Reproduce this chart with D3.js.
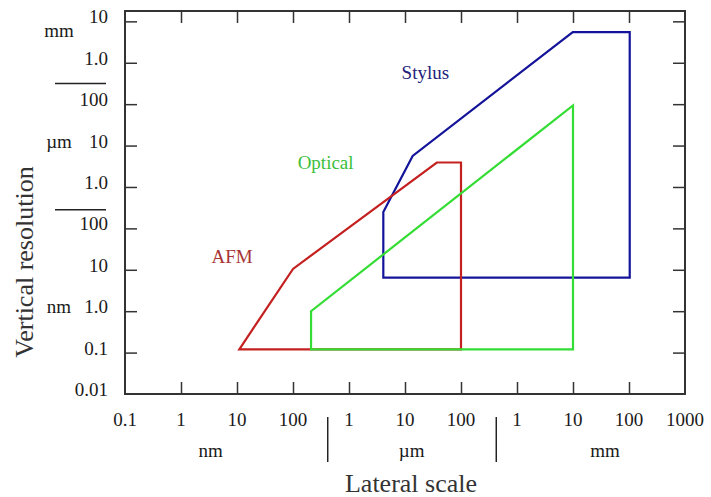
<!DOCTYPE html>
<html>
<head>
<meta charset="utf-8">
<script src="https://cdn.jsdelivr.net/npm/d3@7"></script>
<style>
  body { margin: 0; background: #fff; }
  text { font-family: "Liberation Serif", "Times New Roman", serif; }
</style>
</head>
<body>
<div id="chart"></div>
<script>
// axis ticks (values in metres) and their printed labels
const xTickValues = [1e-10, 1e-9, 1e-8, 1e-7, 1e-6, 1e-5, 1e-4, 1e-3, 1e-2, 1e-1, 1];
const xTickLabels = ["0.1", "1", "10", "100", "1", "10", "100", "1", "10", "100", "1000"];
const yTickValues = [1e-11, 1e-10, 1e-9, 1e-8, 1e-7, 1e-6, 1e-5, 1e-4, 1e-3, 1e-2];
const yTickLabels = ["0.01", "0.1", "1.0", "10", "100", "1.0", "10", "100", "1.0", "10"];

// unit groups along each axis
const xUnits = ["nm", "µm", "mm"];
const xUnitAt = [10 ** -8.47, 10 ** -4.88, 10 ** -1.43];
const xUnitBreaks = [10 ** -6.38, 10 ** -3.37];
const yUnits = ["mm", "µm", "nm"];
const yUnitAt = [10 ** -2.33, 1e-5, 1e-9];
const yUnitBreaks = [10 ** -3.5, 10 ** -6.55];

// instrument regions: lateral (x) and vertical (y) corners, in metres
const afmX = [11e-9, 1e-7, 3.7e-5, 1e-4, 1e-4];
const afmY = [1.2e-10, 1.05e-8, 3.9e-6, 3.9e-6, 1.2e-10];
const opticalX = [2.1e-7, 2.1e-7, 1e-2, 1e-2];
const opticalY = [1.2e-10, 1e-9, 9.3e-5, 1.2e-10];
const stylusX = [4.1e-6, 4.1e-6, 1.37e-5, 9.9e-3, 0.103, 0.103];
const stylusY = [6.5e-9, 2.5e-7, 5.6e-6, 5.5e-3, 5.5e-3, 6.5e-9];

const seriesNames = ["Stylus", "AFM", "Optical"];
const seriesLabelX = [8.7e-6, 3.5e-9, 1.21e-7];
const seriesLabelY = [4.1e-4, 1.48e-8, 2.72e-6];

const W = 711, H = 497;
const frame = { left: 125, right: 685, top: 11, bottom: 394 };

const svg = d3.select("#chart").append("svg")
    .attr("width", W)
    .attr("height", H);

const x = d3.scaleLog().domain([1e-10, 1]).range([frame.left, frame.right]);
const y = d3.scaleLog().domain([1e-11, 10 ** -1.75]).range([frame.bottom, frame.top]);

const axisColor = "#333";
const tickLen = 12;

// ticks on all four sides, pointing inward (edge values are the frame itself)
const innerX = xTickValues.slice(1, -1);
const innerY = yTickValues.slice(1);

function styleAxis(g) {
    g.select(".domain").remove();
    g.selectAll(".tick line").attr("stroke", axisColor).attr("stroke-width", 1.5);
}

svg.append("g").attr("transform", `translate(0,${frame.bottom})`)
    .call(d3.axisBottom(x).tickValues(innerX).tickSize(-tickLen).tickFormat(""))
    .call(styleAxis);
svg.append("g").attr("transform", `translate(0,${frame.top})`)
    .call(d3.axisTop(x).tickValues(innerX).tickSize(-tickLen).tickFormat(""))
    .call(styleAxis);
svg.append("g").attr("transform", `translate(${frame.left},0)`)
    .call(d3.axisLeft(y).tickValues(innerY).tickSize(-tickLen).tickFormat(""))
    .call(styleAxis);
svg.append("g").attr("transform", `translate(${frame.right},0)`)
    .call(d3.axisRight(y).tickValues(innerY).tickSize(-tickLen).tickFormat(""))
    .call(styleAxis);

// frame
svg.append("rect")
    .attr("x", frame.left)
    .attr("y", frame.top)
    .attr("width", frame.right - frame.left)
    .attr("height", frame.bottom - frame.top)
    .attr("fill", "none")
    .attr("stroke", axisColor)
    .attr("stroke-width", 2);

// tick labels
svg.append("g").selectAll("text")
    .data(xTickValues)
    .join("text")
    .attr("x", d => x(d))
    .attr("y", 426)
    .attr("text-anchor", "middle")
    .style("font-size", "19px")
    .attr("fill", "#1a1a1a")
    .text((d, i) => xTickLabels[i]);

svg.append("g").selectAll("text")
    .data(yTickValues)
    .join("text")
    .attr("x", 108)
    .attr("y", d => y(d) + 2)
    .attr("text-anchor", "end")
    .style("font-size", "19px")
    .attr("fill", "#1a1a1a")
    .text((d, i) => yTickLabels[i]);

// unit names and separators
svg.append("g").selectAll("text")
    .data(xUnits)
    .join("text")
    .attr("x", (d, i) => x(xUnitAt[i]))
    .attr("y", 457)
    .attr("text-anchor", "middle")
    .style("font-size", "19px")
    .attr("fill", "#1a1a1a")
    .text(d => d);

svg.append("g").selectAll("line")
    .data(xUnitBreaks)
    .join("line")
    .attr("x1", d => x(d)).attr("x2", d => x(d))
    .attr("y1", 417).attr("y2", 462)
    .attr("stroke", "#222")
    .attr("stroke-width", 1.5);

svg.append("g").selectAll("text")
    .data(yUnits)
    .join("text")
    .attr("x", 59)
    .attr("y", (d, i) => y(yUnitAt[i]) + 2)
    .attr("text-anchor", "middle")
    .style("font-size", "19px")
    .attr("fill", "#1a1a1a")
    .text(d => d);

svg.append("g").selectAll("line")
    .data(yUnitBreaks)
    .join("line")
    .attr("x1", 55).attr("x2", 106)
    .attr("y1", d => y(d)).attr("y2", d => y(d))
    .attr("stroke", "#222")
    .attr("stroke-width", 1.5);

// axis titles
svg.append("text")
    .attr("x", 411)
    .attr("y", 492)
    .attr("text-anchor", "middle")
    .style("font-size", "26px")
    .attr("fill", "#333")
    .text("Lateral scale");

svg.append("text")
    .attr("transform", "translate(33,262) rotate(-90)")
    .attr("text-anchor", "middle")
    .style("font-size", "26px")
    .attr("fill", "#333")
    .text("Vertical resolution");

// instrument regions
const regions = [
    { name: "Stylus", xs: stylusX, ys: stylusY, color: "#14149a", text: "#22227a" },
    { name: "AFM", xs: afmX, ys: afmY, color: "#c42020", text: "#a83434" },
    { name: "Optical", xs: opticalX, ys: opticalY, color: "#33dd33", text: "#3cbf3c" }
];

const outline = d3.line()
    .x(d => x(d[0]))
    .y(d => y(d[1]))
    .curve(d3.curveLinearClosed);

regions.forEach(r => {
    const pts = r.xs.map((v, i) => [v, r.ys[i]]);
    svg.append("path")
        .attr("d", outline(pts))
        .attr("fill", "none")
        .attr("stroke", r.color)
        .attr("stroke-width", 2.2)
        .attr("stroke-linejoin", "miter");

    const k = seriesNames.indexOf(r.name);
    svg.append("text")
        .attr("x", x(seriesLabelX[k]))
        .attr("y", y(seriesLabelY[k]))
        .style("font-size", "19px")
        .attr("fill", r.text)
        .text(r.name);
});
</script>
</body>
</html>
